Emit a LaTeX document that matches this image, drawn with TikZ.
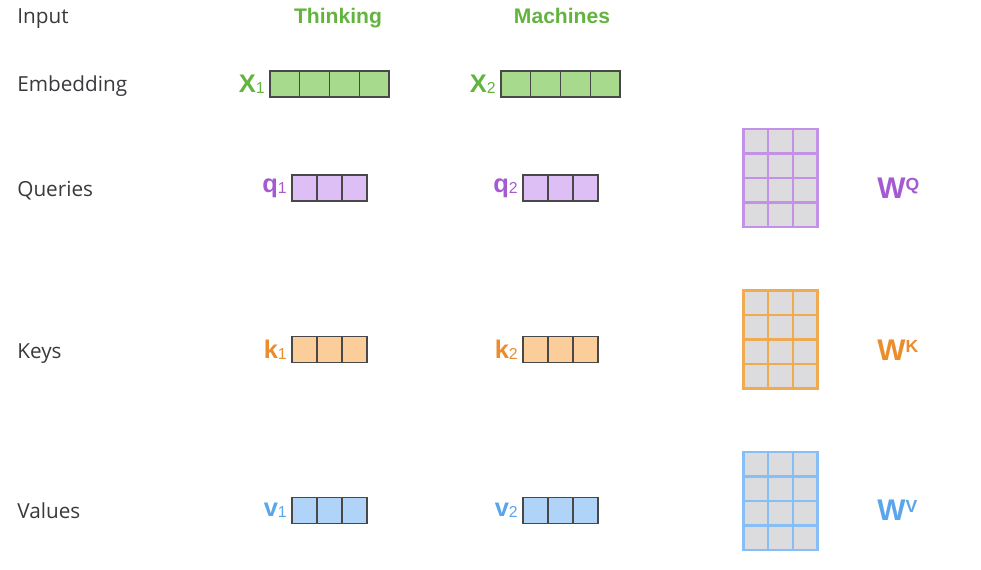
\documentclass[tikz,border=0pt]{standalone}
\usepackage{fontspec}
\setmainfont{Liberation Sans}
\newfontfamily\labelfont{Open Sans}
\usepackage{tikz}
\usetikzlibrary{positioning}

\definecolor{labelGray}{RGB}{58,58,62}
\definecolor{cellLine}{RGB}{72,72,72}
\definecolor{cellGray}{RGB}{220,220,222}
\definecolor{wordGreen}{RGB}{98,180,62}
\definecolor{embedFill}{RGB}{168,218,141}
\definecolor{queryText}{RGB}{165,90,210}
\definecolor{queryFill}{RGB}{221,190,245}
\definecolor{queryLine}{RGB}{195,145,230}
\definecolor{keyText}{RGB}{235,140,45}
\definecolor{keyFill}{RGB}{250,205,155}
\definecolor{keyLine}{RGB}{240,170,80}
\definecolor{valueText}{RGB}{90,165,235}
\definecolor{valueFill}{RGB}{175,212,248}
\definecolor{valueLine}{RGB}{135,190,245}

\newcommand{\vecsub}[1]{\raisebox{-0.8pt}{\mdseries\fontsize{9}{10}\selectfont #1}}
\newcommand{\wsup}[1]{\raisebox{4.6pt}{\fontsize{10}{10}\selectfont #1}}

\begin{document}
\begin{tikzpicture}[
  x=0.02cm, y=-0.02cm,
  rowLabel/.style={anchor=base west, text=labelGray, inner sep=0pt, font=\labelfont\fontsize{11.8}{14}\selectfont},
  wordLabel/.style={anchor=base, text=wordGreen, inner sep=0pt, font=\bfseries\fontsize{12}{14}\selectfont},
  baseCell/.style={rectangle, draw=cellLine, line width=0.6pt, minimum height=0.52cm, inner sep=0pt},
  embedCell/.style={baseCell, fill=embedFill, minimum width=0.595cm},
  queryCell/.style={baseCell, fill=queryFill, minimum width=0.5cm},
  keyCell/.style={baseCell, fill=keyFill, minimum width=0.5cm},
  valueCell/.style={baseCell, fill=valueFill, minimum width=0.5cm},
  vecName/.style={inner sep=1pt, font=\bfseries\fontsize{14.5}{16}\selectfont},
  weightFrame/.style={rectangle, fill=cellGray, line width=1.6pt, minimum width=1.485cm, minimum height=1.96cm, inner sep=0pt},
  weightCell/.style={rectangle, line width=1.2pt, minimum width=0.495cm, minimum height=0.49cm, inner sep=0pt},
  weightName/.style={anchor=west, inner sep=0pt, font=\bfseries\fontsize{17}{19}\selectfont},
  node distance=1.5pt
]
\fill[white] (0,0) rectangle (981,569);
\useasboundingbox (0,0) rectangle (981,569);

% row labels
\node[rowLabel] (input) at (17,23) {Input};
\node[rowLabel] (embedding) at (17,91) {Embedding};
\node[rowLabel] (queries) at (17,196) {Queries};
\node[rowLabel] (keys) at (17,358) {Keys};
\node[rowLabel] (values) at (17,518) {Values};

% words
\node[wordLabel] (thinking) at (338,23) {Thinking};
\node[wordLabel] (machines) at (562,23) {Machines};

% embeddings
\foreach \i in {1,...,4} {
  \node[embedCell] (xa\i) at ({270+29.75*(\i-0.5)},84) {};
  \node[embedCell] (xb\i) at ({501+29.75*(\i-0.5)},84) {};
}
\node[vecName, text=wordGreen, left=of xa1] (x1) {X\vecsub{1}};
\node[vecName, text=wordGreen, left=of xb1] (x2) {X\vecsub{2}};

% queries, keys, values
\foreach \i in {1,2,3} {
  \node[queryCell] (qa\i) at ({292+25*(\i-0.5)},188) {};
  \node[queryCell] (qb\i) at ({523+25*(\i-0.5)},188) {};
  \node[keyCell] (ka\i) at ({292+25*(\i-0.5)},349.5) {};
  \node[keyCell] (kb\i) at ({523+25*(\i-0.5)},349.5) {};
  \node[valueCell] (va\i) at ({292+25*(\i-0.5)},510.5) {};
  \node[valueCell] (vb\i) at ({523+25*(\i-0.5)},510.5) {};
}
\node[vecName, text=queryText, left=of qa1] (q1) {q\vecsub{1}};
\node[vecName, text=queryText, left=of qb1] (q2) {q\vecsub{2}};
\node[vecName, text=keyText, left=of ka1] (k1) {k\vecsub{1}};
\node[vecName, text=keyText, left=of kb1] (k2) {k\vecsub{2}};
\node[vecName, text=valueText, left=of va1] (v1) {v\vecsub{1}};
\node[vecName, text=valueText, left=of vb1] (v2) {v\vecsub{2}};

% weight matrices
\node[weightFrame, draw=queryLine] (wq) at (780.5,178) {};
\node[weightFrame, draw=keyLine] (wk) at (780.5,339.5) {};
\node[weightFrame, draw=valueLine] (wv) at (780.5,501) {};
\foreach \r in {1,...,4} {
  \foreach \c in {1,2,3} {
    \node[weightCell, draw=queryLine] (wq\r\c) at ({780.5+24.75*(\c-2)},{178+24.5*(\r-2.5)}) {};
    \node[weightCell, draw=keyLine] (wk\r\c) at ({780.5+24.75*(\c-2)},{339.5+24.5*(\r-2.5)}) {};
    \node[weightCell, draw=valueLine] (wv\r\c) at ({780.5+24.75*(\c-2)},{501+24.5*(\r-2.5)}) {};
  }
}

\node[weightName, text=queryText] (wqname) at (877,188) {W\wsup{Q}};
\node[weightName, text=keyText] (wkname) at (877,350) {W\wsup{K}};
\node[weightName, text=valueText] (wvname) at (877,510) {W\wsup{V}};
\end{tikzpicture}
\end{document}
